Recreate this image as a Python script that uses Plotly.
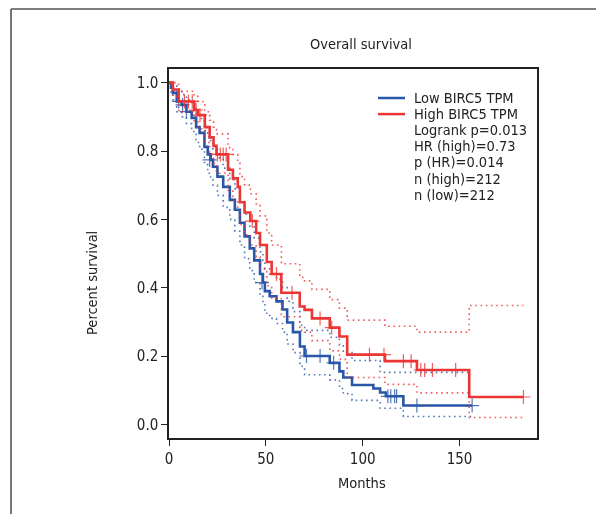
import plotly.graph_objects as go

# ---------------- data ----------------
high_t = [0, 2, 5, 13, 15, 18.5, 21, 23, 24.5, 30.5, 33, 35.5, 36.6, 39, 42, 45, 47, 50.5, 53, 58,
          67.5, 70, 73.8, 83, 88, 92, 111.5, 128, 155, 183]
high_s = [1.0, 0.98, 0.945, 0.92, 0.905, 0.87, 0.84, 0.815, 0.79, 0.745, 0.72, 0.695, 0.65, 0.62, 0.595,
          0.56, 0.525, 0.475, 0.44, 0.385, 0.345, 0.335, 0.31, 0.283, 0.257, 0.204, 0.185, 0.159, 0.08, 0.08]
high_up = [1.0, 1.0, 0.975, 0.96, 0.945, 0.915, 0.89, 0.87, 0.85, 0.81, 0.79, 0.765, 0.725, 0.70, 0.675,
           0.645, 0.61, 0.56, 0.525, 0.47, 0.43, 0.42, 0.395, 0.365, 0.34, 0.305, 0.287, 0.27, 0.348, 0.348]
high_lo = [1.0, 0.96, 0.915, 0.885, 0.865, 0.825, 0.79, 0.765, 0.735, 0.685, 0.655, 0.63, 0.585, 0.555,
           0.525, 0.49, 0.455, 0.405, 0.37, 0.315, 0.275, 0.27, 0.245, 0.215, 0.19, 0.137, 0.117, 0.092,
           0.02, 0.02]
high_cens_t = [8, 10, 12, 14, 16, 25, 26.5, 28, 29.5, 43, 55.5, 63.5, 78, 84, 103.5, 111, 121, 125, 130,
               132, 136, 148, 183]
high_cens_s = [0.945, 0.945, 0.945, 0.92, 0.905, 0.79, 0.79, 0.79, 0.79, 0.595, 0.44, 0.385, 0.31, 0.283,
               0.204, 0.204, 0.185, 0.185, 0.159, 0.159, 0.159, 0.159, 0.08]

low_t = [0, 1, 2, 4, 6.5, 9, 11.7, 14, 15.8, 18.3, 20, 21.5, 22.7, 25, 28, 31.4, 34, 36.6, 39, 41.7, 44,
         47, 48.5, 49.5, 52, 55.5, 58.6, 61, 64, 67.6, 70, 83, 88, 90, 94.5, 105.5, 109, 112, 121, 156.5]
low_s = [1.0, 0.985, 0.97, 0.945, 0.935, 0.915, 0.897, 0.87, 0.853, 0.812, 0.79, 0.774, 0.754, 0.725,
         0.695, 0.657, 0.628, 0.59, 0.55, 0.515, 0.48, 0.44, 0.415, 0.39, 0.375, 0.36, 0.336, 0.298, 0.27,
         0.228, 0.2, 0.18, 0.155, 0.137, 0.115, 0.105, 0.093, 0.082, 0.055, 0.055]
low_up = [1.0, 1.0, 0.99, 0.975, 0.965, 0.95, 0.935, 0.91, 0.895, 0.86, 0.84, 0.825, 0.805, 0.78, 0.75,
          0.715, 0.69, 0.65, 0.615, 0.58, 0.545, 0.505, 0.48, 0.455, 0.44, 0.425, 0.4, 0.36, 0.33, 0.29,
          0.275, 0.255, 0.23, 0.21, 0.187, 0.187, 0.152, 0.152, 0.152, 0.152]
low_lo = [1.0, 0.97, 0.95, 0.915, 0.9, 0.88, 0.857, 0.825, 0.805, 0.76, 0.735, 0.72, 0.7, 0.67, 0.635,
          0.6, 0.565, 0.525, 0.485, 0.45, 0.415, 0.375, 0.35, 0.325, 0.31, 0.295, 0.27, 0.235, 0.21, 0.17,
          0.145, 0.13, 0.105, 0.09, 0.07, 0.07, 0.047, 0.047, 0.023, 0.023]
low_cens_t = [5, 7, 9, 21, 48, 71, 78, 85, 113, 114.5, 116.5, 117.5, 128, 156.5]
low_cens_s = [0.945, 0.935, 0.915, 0.774, 0.415, 0.2, 0.2, 0.18, 0.082, 0.082, 0.082, 0.082, 0.055, 0.055]

legend_labels = ["Low BIRC5 TPM", "High BIRC5 TPM", "Logrank p=0.013", "HR (high)=0.73",
                 "p (HR)=0.014", "n (high)=212", "n (low)=212"]
x_ticks = [0, 50, 100, 150]
y_ticks = [0.0, 0.2, 0.4, 0.6, 0.8, 1.0]

# ---------------- style ----------------
RED = "#EC3535"
BLUE = "#2957A8"
RED_CI = "rgba(236,53,53,0.8)"
BLUE_CI = "rgba(41,87,168,0.8)"
TXT = "#222"
FONT = "Liberation Sans Narrow, DejaVu Sans Condensed, Arial Narrow, sans-serif"
OFF = 8                      # page offset of the plot div
W, H = 604 - OFF, 514 - OFF
L, R, T, B = 169, 537, 69, 438   # plot box in page pixels


def px(xp):
    return (xp - L) / (R - L)


def py(yp):
    return (B - yp) / (B - T)


fig = go.Figure()

for t, s, up, lo, col, cicol, ct, cs in [
    (low_t, low_s, low_up, low_lo, BLUE, BLUE_CI, low_cens_t, low_cens_s),
    (high_t, high_s, high_up, high_lo, RED, RED_CI, high_cens_t, high_cens_s),
]:
    for ci in (up, lo):
        fig.add_trace(go.Scatter(x=t, y=ci, mode="lines",
                                 line=dict(color=cicol, width=1.6, dash="1.6px,3.6px", shape="hv"),
                                 hoverinfo="skip", showlegend=False))
    fig.add_trace(go.Scatter(x=t, y=s, mode="lines", line=dict(color=col, width=2.6, shape="hv"),
                             showlegend=False))
    fig.add_trace(go.Scatter(x=ct, y=cs, mode="markers",
                             marker=dict(symbol="cross-thin", size=10, line=dict(color=col, width=1.2)),
                             opacity=0.8, showlegend=False))

shapes = []
annotations = []
# legend: one text block, line pitch set by the outer font size, glyph size by the inner span
row0, dy = 98, 16.1
LEG_GLYPH = 14.5
for i in range(2):
    yc = row0 + i * dy
    shapes.append(dict(type="line", xref="paper", yref="paper", x0=px(378), x1=px(405),
                       y0=py(yc), y1=py(yc), line=dict(color=[BLUE, RED][i], width=2.5)))
leg_text = "<br>".join('<span style="font-size:%.1fpx">%s</span>' % (LEG_GLYPH, lab)
                       for lab in legend_labels)
annotations.append(dict(text=leg_text, xref="paper", yref="paper", x=px(412),
                        y=py(row0 + dy * (len(legend_labels) - 1) / 2), xanchor="left",
                        yanchor="middle", align="left", showarrow=False,
                        font=dict(family=FONT, size=dy / 1.3, color=TXT)))

# frame around figure
shapes.append(dict(type="line", xref="paper", yref="paper", x0=px(11), x1=px(11), y0=py(9), y1=py(520),
                   line=dict(color="#555", width=1.6)))
shapes.append(dict(type="line", xref="paper", yref="paper", x0=px(11), x1=px(610), y0=py(9), y1=py(9),
                   line=dict(color="#555", width=1.6)))

annotations.append(dict(text="Overall survival", xref="paper", yref="paper", x=px(361), y=py(44),
                        xanchor="center", yanchor="middle", showarrow=False,
                        font=dict(family=FONT, size=14.5, color=TXT)))
annotations.append(dict(text="Months", xref="paper", yref="paper", x=px(362), y=py(483),
                        xanchor="center", yanchor="middle", showarrow=False,
                        font=dict(family=FONT, size=14.5, color=TXT)))
annotations.append(dict(text="Percent survival", xref="paper", yref="paper", x=px(92), y=py(283),
                        xanchor="center", yanchor="middle", showarrow=False, textangle=-90,
                        font=dict(family=FONT, size=14.5, color=TXT)))

fig.update_layout(
    width=W, height=H,
    margin=dict(l=L - OFF, r=W - (R - OFF), t=T - OFF, b=H - (B - OFF), pad=0),
    paper_bgcolor="white", plot_bgcolor="white",
    showlegend=False,
    shapes=shapes, annotations=annotations,
    font=dict(family=FONT, size=15, color=TXT),
)
fig.update_xaxes(range=[0, 190], tickvals=x_ticks, ticks="outside", ticklen=6, tickwidth=1.3,
                 tickcolor=TXT, showline=True, linecolor=TXT, linewidth=1.5, mirror=True,
                 showgrid=False, zeroline=False, tickfont=dict(family=FONT, size=15, color=TXT))
fig.update_yaxes(range=[-0.04, 1.04], tickvals=y_ticks, tickformat=".1f", ticks="outside", ticklen=6,
                 tickwidth=1.3, tickcolor=TXT, showline=True, linecolor=TXT, linewidth=1.5,
                 mirror=True, showgrid=False, zeroline=False,
                 tickfont=dict(family=FONT, size=15, color=TXT))

fig.write_html("out.html")
